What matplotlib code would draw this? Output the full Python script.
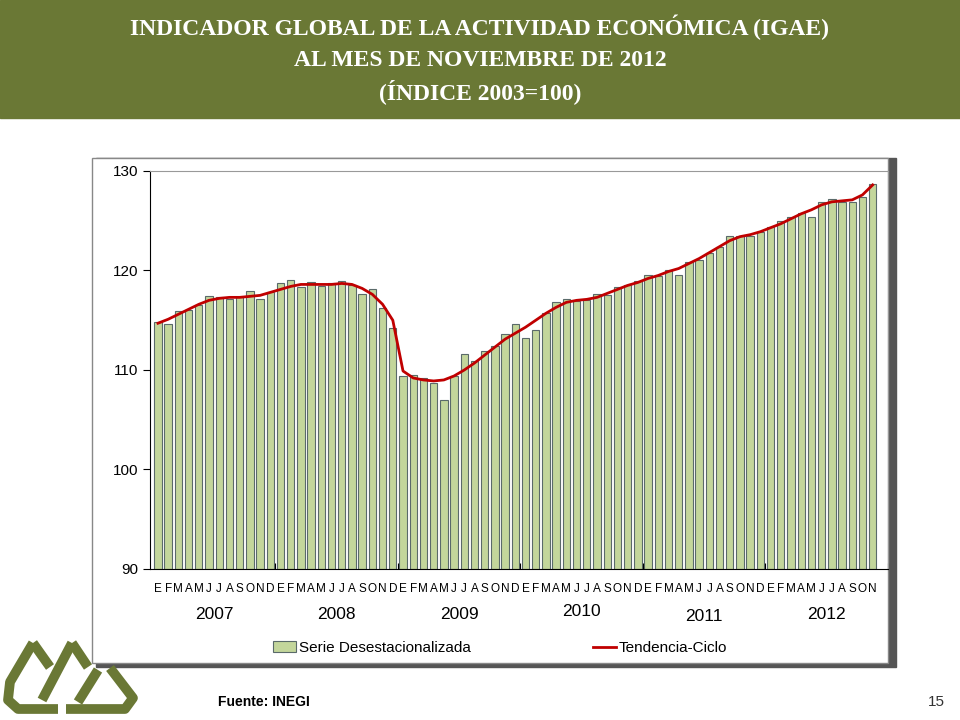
import numpy as np
import matplotlib
matplotlib.use("Agg")
import matplotlib.pyplot as plt
from matplotlib.patches import Rectangle
from matplotlib.lines import Line2D

# Jan 2007 .. Nov 2012
serie = [114.8, 114.6, 115.9, 116.0, 116.5, 117.4, 117.3, 117.1, 117.3, 117.9, 117.1, 117.8,
         118.7, 119.0, 118.3, 118.8, 118.4, 118.7, 118.9, 118.5, 117.6, 118.1, 116.2, 114.2,
         109.4, 109.5, 109.2, 108.7, 107.0, 109.4, 111.6, 110.9, 111.9, 112.4, 113.6, 114.6,
         113.2, 114.0, 115.7, 116.8, 117.1, 116.9, 117.0, 117.6, 117.5, 118.3, 118.5, 118.9,
         119.5, 119.4, 120.1, 119.5, 120.9, 121.1, 121.8, 122.4, 123.5, 123.5, 123.5, 123.9,
         124.4, 125.0, 125.4, 125.8, 125.4, 126.9, 127.2, 126.9, 126.9, 127.4, 128.7]
tendencia = [114.7, 115.1, 115.6, 116.1, 116.6, 117.0, 117.2, 117.3, 117.3, 117.4, 117.5, 117.8,
             118.1, 118.4, 118.6, 118.6, 118.6, 118.6, 118.7, 118.6, 118.2, 117.6, 116.6, 115.0,
             109.9, 109.2, 109.0, 108.9, 109.0, 109.4, 110.0, 110.7, 111.5, 112.3, 113.1, 113.7,
             114.3, 115.0, 115.7, 116.3, 116.8, 117.0, 117.1, 117.3, 117.7, 118.1, 118.5, 118.8,
             119.2, 119.5, 119.9, 120.2, 120.7, 121.2, 121.8, 122.4, 123.0, 123.4, 123.6, 123.9,
             124.3, 124.7, 125.2, 125.7, 126.1, 126.6, 126.9, 127.0, 127.1, 127.6, 128.6]
meses = list("EFMAMJJASOND")
years = ["2007", "2008", "2009", "2010", "2011", "2012"]
yticks = [90, 100, 110, 120, 130]

W, H = 960, 720
fig = plt.figure(figsize=(9.6, 7.2), dpi=100)
fig.patch.set_facecolor("white")

def fx(px): return px / W
def fy(py): return 1 - py / H

# header band
fig.patches.append(Rectangle((0, fy(118)), 1, 118 / H, transform=fig.transFigure,
                             color="#6a7835", zorder=0))
for txt, y in [("INDICADOR GLOBAL DE LA ACTIVIDAD ECONÓMICA (IGAE)", 27),
               ("AL MES DE NOVIEMBRE DE 2012", 60),
               ("(ÍNDICE 2003=100)", 92)]:
    fig.text(0.5, fy(y), txt, ha="center", va="center", color="white",
             fontsize=17, fontweight="bold", family="Liberation Serif")

# chart box with shadow
fig.patches.append(Rectangle((fx(96), fy(667)), (892 - 92) / W, (667 - 158) / H,
                             transform=fig.transFigure, color="#555555", zorder=0))
fig.patches.append(Rectangle((fx(92), fy(663)), (888 - 92) / W, (663 - 158) / H,
                             transform=fig.transFigure, facecolor="white",
                             edgecolor="#888888", lw=1, zorder=0))

ax = fig.add_axes([fx(150), fy(569), (888 - 150) / W, (569 - 171) / H])
ax.set_zorder(3)
ax.patch.set_alpha(0)
x = np.arange(len(serie))
b = ax.bar(x, [v - 90 for v in serie], bottom=90, width=0.72, color="#c3d69b",
           edgecolor="#5a6a6a", lw=0.8)
ln, = ax.plot(x, tendencia, color="#c00000", lw=2)
ax.set_ylim(90, 130)
ax.set_xlim(-0.78, 70.95)
ax.set_yticks(yticks)
ax.set_yticklabels([str(t) for t in yticks], fontsize=11, family="Liberation Sans")
ax.set_xticks([11.5 + 12 * i for i in range(6)])
ax.set_xticklabels([])
ax.tick_params(axis="x", length=4, direction="in")
ax.tick_params(axis="y", length=5, direction="out")
ax.spines["top"].set_color("#999999")
ax.spines["right"].set_color("#999999")

for i in x:
    ax.text(i, 88.0, meses[i % 12], ha="center", va="center", fontsize=8.5,
            family="Liberation Sans")
for j, yr in enumerate(years):
    ax.text(5.5 + 12 * j, 85.4 + (0.3 if j == 3 else (-0.2 if j == 4 else 0)), yr,
            ha="center", va="center", fontsize=12.5, family="Liberation Sans")

leg = fig.legend([b, ln], ["Serie Desestacionalizada", "Tendencia-Ciclo"], loc="center",
                 bbox_to_anchor=(fx(500), fy(648)), ncol=2, frameon=False,
                 prop={"family": "Liberation Sans", "size": 11}, columnspacing=8,
                 handlelength=1.5, handletextpad=0.2)
leg.set_zorder(4)

# logo (rough mountain outline)
green = "#6a7835"
strokes = [
    [(33, 643), (10, 682), (8, 700), (18, 709), (58, 709)],
    [(33, 643), (50, 667)],
    [(72, 643), (42, 700)],
    [(72, 643), (88, 667)],
    [(98, 670), (78, 702)],
    [(110, 668), (133, 698), (125, 709), (66, 709)],
]
for s in strokes:
    xs = [fx(p[0]) for p in s]
    ys = [fy(p[1]) for p in s]
    fig.lines.append(Line2D(xs, ys, transform=fig.transFigure, color=green, lw=7,
                            solid_capstyle="butt", solid_joinstyle="round"))

fig.text(fx(218), fy(702), "Fuente: INEGI", fontsize=10, fontweight="bold",
         family="Liberation Sans", va="center")
fig.text(fx(945), fy(702), "15", fontsize=11, family="Liberation Sans",
         va="center", ha="right", color="#333333")

fig.savefig("out.png", dpi=100)
